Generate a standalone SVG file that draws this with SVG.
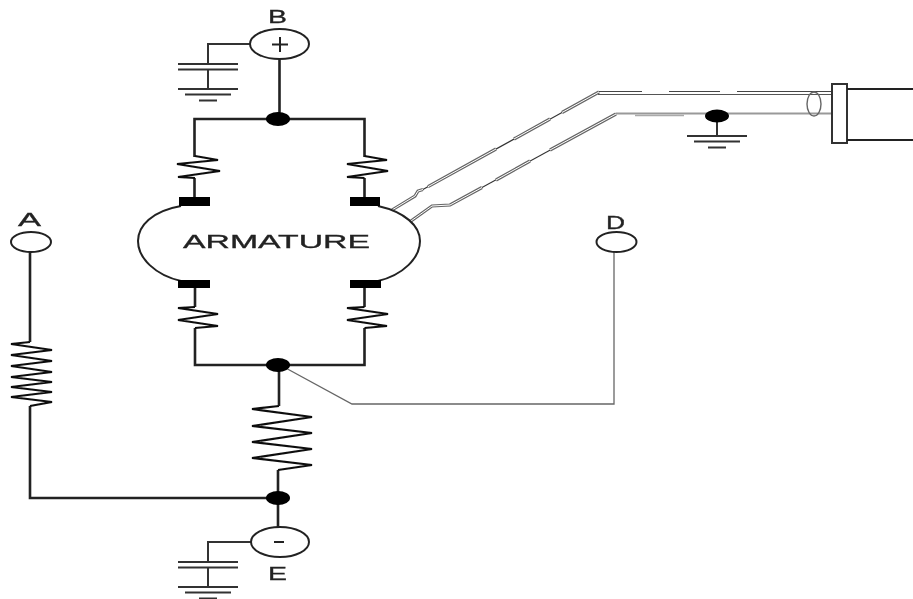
<svg xmlns="http://www.w3.org/2000/svg" width="913" height="599" viewBox="0 0 913 599">
<style>
.w{fill:none;stroke:#222;stroke-width:2.6}
.r{fill:none;stroke:#111;stroke-width:2.2}
.t{fill:none;stroke:#222;stroke-width:2}
.g{fill:none;stroke:#333;stroke-width:2}
.c{fill:#fff;stroke:#222;stroke-width:2}
.j{fill:#000}
.b{fill:#000}
.l{font-family:"Liberation Sans",Arial,sans-serif;fill:#222;stroke:#222;stroke-width:.3;text-anchor:start;font-size:17.500px}
.thin{fill:none;stroke:#333;stroke-width:1.200}
.dbl{fill:none;stroke:#666;stroke-width:3.200}
.in{fill:none;stroke:#fff;stroke-width:1}
</style>
<defs>
<filter id="soft" x="0" y="0" width="100%" height="100%" filterUnits="userSpaceOnUse"><feGaussianBlur stdDeviation="0.550"/></filter>
<g id="gnd"><path class="g" d="M-30 0H30M-23 5.500H23M-9 11.500H9"/></g>
<g id="cap"><path class="g" d="M-30 0H30M-30 5.500H30M0 5.500V25"/><use href="#gnd" y="25"/></g>
</defs>
<rect width="913" height="599" fill="#fff"/>
<g filter="url(#soft)">
<g id="connectors">
<path class="w" d="M279.500 59V119M194.500 157V119H364.500V157M194.500 178V197M364.500 178V197"/>
<path class="w" d="M195 287V307M364.500 287V307M195 328V365H364.500V328"/>
<path class="w" d="M279 365V406M278 470V527"/>
<path class="w" d="M30 252V342M30 406V498H278"/>
<path class="g" d="M250 44H208V64M251 542H208V562"/>
<path class="g" d="M717 116V136"/>
<path fill="none" stroke="#666" stroke-width="1.300" d="M282 366L352 404H614V252"/>
<path class="thin" d="M422 190L599 92"/>
<path class="thin" d="M450 205L616 114"/>
<path class="dbl" d="M392 210L415 196L418 191L423 189.500M428 186.700L496 149M514 139L550 119M562 112.500L599 92"/>
<path class="in" d="M392 210L415 196L418 191L423 189.500M428 186.700L496 149M514 139L550 119M562 112.500L599 92"/>
<path class="dbl" d="M411 221L432 206L450 205L482 187.500M496 180L530 161M550 150L616 114"/>
<path class="in" d="M411 221L432 206L450 205L482 187.500M496 180L530 161M550 150L616 114"/>
<path fill="none" stroke="#444" stroke-width="1.200" d="M599 91.500H642M669 91.500H720M737 91.500H832"/>
<path fill="none" stroke="#555" stroke-width="1.200" d="M598 94.500H832"/>
<path fill="none" stroke="#999" stroke-width="2.200" d="M616 113.500H832"/>
<path fill="none" stroke="#aaa" stroke-width="1.500" d="M635 115.500H684"/>
</g>
<g id="node-b"><ellipse class="c" cx="279.500" cy="44" rx="29.500" ry="15"/><path class="t" d="M272 44.500H288M280 37V52"/><text class="l" x="268" y="23" textLength="19" lengthAdjust="spacingAndGlyphs">B</text></g>
<g id="cap-b"><use href="#cap" x="208" y="64"/></g>
<g id="junction-top"><ellipse class="j" cx="278" cy="119" rx="12" ry="7"/></g>
<g id="resistor-tl"><path class="r" d="M195 156L218 160L177 164L220 171L178 177L195 178"/></g>
<g id="resistor-tr"><path class="r" d="M364.500 156L387 160L347 164L388 171L347 177L364.500 178"/></g>
<g id="armature">
<path class="t" d="M181 206C152 211 138 226 138 241C138 258 155 275 181 281"/>
<path class="t" d="M378 206C405 212 420 226 420 241C420 258 403 275 378 281"/>
<rect class="b" x="179" y="197" width="31" height="9"/>
<rect class="b" x="350" y="197" width="30" height="9"/>
<rect class="b" x="178" y="280" width="32" height="8"/>
<rect class="b" x="350" y="280" width="31" height="8"/>
<text class="l" x="183" y="248" style="font-size:18px" textLength="187" lengthAdjust="spacingAndGlyphs">ARMATURE</text>
</g>
<g id="resistor-bl"><path class="r" d="M195 307L178 308L218 314L178 320L218 326L195 328"/></g>
<g id="resistor-br"><path class="r" d="M364.500 307L347 308L388 314L347 320L387 326L364.500 328"/></g>
<g id="resistor-low"><path class="r" d="M279 406L252 409L312 417L252 426L312 433L252 442L312 449L252 458L312 465L278 470"/></g>
<g id="resistor-a"><path class="r" d="M30 342L11 344L52 350L11 355L52 361L11 366L52 372L11 377L52 382L11 387L52 392L11 397L52 402L30 406"/></g>
<g id="junction-mid"><ellipse class="j" cx="278" cy="365" rx="12" ry="7"/></g>
<g id="junction-low"><ellipse class="j" cx="278" cy="498" rx="12" ry="7"/></g>
<g id="node-e"><ellipse class="c" cx="280" cy="542" rx="29" ry="15"/><path class="t" d="M274 542H284"/><text class="l" x="268" y="580" textLength="19" lengthAdjust="spacingAndGlyphs">E</text></g>
<g id="cap-e"><use href="#cap" x="208" y="562"/></g>
<g id="node-a"><ellipse class="c" cx="31" cy="242" rx="20" ry="10"/><text class="l" x="18" y="226" textLength="23" lengthAdjust="spacingAndGlyphs">A</text></g>
<g id="node-d"><ellipse class="c" cx="616.500" cy="242" rx="20" ry="10"/><text class="l" x="606" y="229" textLength="19" lengthAdjust="spacingAndGlyphs">D</text></g>
<g id="ground-cable"><ellipse class="j" cx="717" cy="116" rx="12" ry="6.500"/><use href="#gnd" x="717" y="136"/></g>
<g id="connector"><ellipse fill="none" stroke="#666" stroke-width="1.400" cx="814" cy="104" rx="7" ry="12"/><rect x="832" y="84" width="15" height="59" fill="#fff" stroke="#333" stroke-width="2"/><path class="t" d="M847 89H913M847 140H913"/></g>
</g>
</svg>
